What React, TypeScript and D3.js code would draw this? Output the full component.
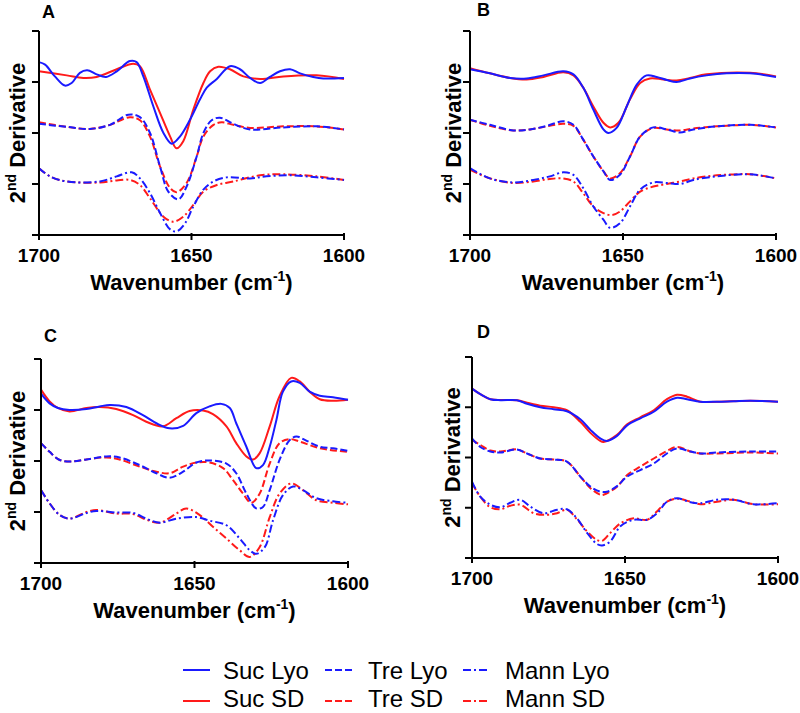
import React from "react";
import * as d3 from "d3";

type Pt = [number, number];

// ---------- Data (wavenumber cm^-1, 2nd derivative arbitrary units; y ticks 0..4) ----------
const WAVENUMBER_TICKS = [1700, 1650, 1600];
const Y_TICKS = [0, 1, 2, 3, 4];
const PANEL_LABELS = ["A", "B", "C", "D"];
const SERIES_NAMES = ["Suc Lyo", "Suc SD", "Tre Lyo", "Tre SD", "Mann Lyo", "Mann SD"];

// Panel A
const sucLyoA: Pt[] = [[1700, 3.39], [1698.0, 3.34], [1694.8, 3.11], [1691.5, 2.93], [1689.3, 2.98], [1686.6, 3.18], [1684.2, 3.23], [1681.1, 3.15], [1678.0, 3.10], [1674.5, 3.21], [1670.2, 3.41], [1668.0, 3.39], [1665.8, 3.11], [1662.5, 2.52], [1659.2, 2.00], [1656.5, 1.79], [1653.8, 1.93], [1650.5, 2.26], [1647.2, 2.66], [1645.0, 2.89], [1641.7, 3.06], [1637.4, 3.31], [1634.1, 3.25], [1630.8, 3.08], [1627.5, 2.98], [1624.3, 3.10], [1621.0, 3.21], [1617.7, 3.25], [1614.4, 3.17], [1610.1, 3.10], [1606.8, 3.07], [1600, 3.08]];
const sucSdA: Pt[] = [[1700, 3.21], [1690.9, 3.13], [1685.5, 3.08], [1681.1, 3.10], [1674.5, 3.25], [1669.1, 3.36], [1666.9, 3.31], [1663.6, 2.85], [1660.3, 2.39], [1657.0, 1.93], [1654.9, 1.70], [1652.7, 1.84], [1649.4, 2.46], [1646.1, 2.98], [1643.9, 3.21], [1641.2, 3.30], [1637.4, 3.25], [1633.0, 3.11], [1627.5, 3.06], [1619.9, 3.11], [1609.0, 3.13], [1600, 3.06]];
const treLyoA: Pt[] = [[1700, 2.18], [1690.9, 2.12], [1683.3, 2.08], [1676.7, 2.16], [1670.7, 2.36], [1666.9, 2.31], [1663.6, 2.00], [1660.3, 1.34], [1657.6, 0.85], [1654.3, 0.70], [1651.6, 0.95], [1648.3, 1.54], [1646.1, 2.00], [1643.4, 2.25], [1640.7, 2.30], [1636.3, 2.18], [1630.8, 2.07], [1619.9, 2.11], [1609.0, 2.13], [1600, 2.07]];
const treSdA: Pt[] = [[1700, 2.21], [1690.9, 2.12], [1683.3, 2.08], [1676.7, 2.16], [1670.2, 2.31], [1666.9, 2.25], [1663.6, 1.93], [1660.3, 1.34], [1657.0, 0.92], [1654.9, 0.84], [1651.6, 1.02], [1648.3, 1.54], [1646.1, 1.93], [1642.8, 2.16], [1640.1, 2.21], [1636.3, 2.16], [1630.8, 2.10], [1619.9, 2.13], [1609.0, 2.13], [1600, 2.07]];
const mannLyoA: Pt[] = [[1700, 1.31], [1696.4, 1.15], [1690.9, 1.05], [1680.0, 1.05], [1674.5, 1.15], [1669.6, 1.23], [1666.9, 1.11], [1663.6, 0.82], [1660.3, 0.43], [1657.0, 0.11], [1654.9, 0.07], [1652.1, 0.23], [1649.4, 0.56], [1646.1, 0.89], [1642.8, 1.05], [1638.5, 1.13], [1630.8, 1.11], [1625.4, 1.15], [1617.7, 1.17], [1609.0, 1.13], [1600, 1.08]];
const mannSdA: Pt[] = [[1700, 1.31], [1696.4, 1.15], [1690.9, 1.05], [1680.0, 1.03], [1674.5, 1.07], [1670.2, 1.08], [1666.9, 0.98], [1663.6, 0.72], [1659.2, 0.36], [1656.0, 0.26], [1652.7, 0.36], [1649.4, 0.59], [1646.1, 0.85], [1641.7, 0.98], [1636.3, 1.05], [1627.5, 1.17], [1619.9, 1.19], [1609.0, 1.15], [1600, 1.08]];

// Panel B
const sucLyoB: Pt[] = [[1700, 3.25], [1693.5, 3.17], [1686.9, 3.08], [1681.5, 3.07], [1676.0, 3.13], [1669.5, 3.21], [1666.2, 3.15], [1663.0, 2.89], [1659.7, 2.46], [1656.4, 2.07], [1654.8, 2.00], [1652.1, 2.10], [1648.8, 2.52], [1645.5, 2.95], [1642.3, 3.13], [1639.0, 3.10], [1635.7, 3.04], [1632.5, 3.00], [1628.1, 3.07], [1622.7, 3.13], [1616.1, 3.17], [1608.5, 3.17], [1600, 3.10]];
const sucSdB: Pt[] = [[1700, 3.27], [1693.5, 3.17], [1686.9, 3.08], [1681.5, 3.05], [1676.0, 3.10], [1669.5, 3.19], [1666.2, 3.13], [1663.0, 2.89], [1659.7, 2.52], [1656.4, 2.20], [1654.2, 2.11], [1651.5, 2.20], [1647.7, 2.66], [1644.4, 2.98], [1641.2, 3.07], [1636.8, 3.05], [1632.5, 3.03], [1628.1, 3.08], [1622.7, 3.15], [1608.5, 3.18], [1600, 3.11]];
const treLyoB: Pt[] = [[1700, 2.26], [1693.5, 2.16], [1685.8, 2.05], [1680.4, 2.07], [1674.9, 2.14], [1669.5, 2.23], [1666.2, 2.16], [1663.0, 1.87], [1659.7, 1.54], [1656.4, 1.25], [1654.2, 1.08], [1651.0, 1.18], [1647.7, 1.54], [1644.4, 1.93], [1640.1, 2.11], [1635.7, 2.07], [1631.4, 2.01], [1627.0, 2.07], [1619.4, 2.13], [1608.5, 2.16], [1600, 2.11]];
const treSdB: Pt[] = [[1700, 2.26], [1693.5, 2.14], [1685.8, 2.05], [1680.4, 2.07], [1674.9, 2.13], [1669.5, 2.18], [1666.2, 2.14], [1663.0, 1.87], [1659.7, 1.54], [1656.4, 1.25], [1654.2, 1.11], [1651.0, 1.21], [1647.7, 1.54], [1644.4, 1.93], [1640.1, 2.10], [1635.7, 2.07], [1631.4, 2.05], [1627.0, 2.09], [1619.4, 2.13], [1608.5, 2.16], [1600, 2.11]];
const mannLyoB: Pt[] = [[1700, 1.31], [1693.5, 1.11], [1685.8, 1.03], [1679.3, 1.08], [1673.9, 1.15], [1669.5, 1.23], [1666.2, 1.18], [1663.0, 0.92], [1659.7, 0.56], [1656.4, 0.30], [1654.2, 0.14], [1651.0, 0.23], [1647.7, 0.56], [1644.4, 0.89], [1640.1, 1.03], [1635.7, 1.02], [1631.4, 1.00], [1627.0, 1.08], [1619.4, 1.15], [1608.5, 1.19], [1600, 1.11]];
const mannSdB: Pt[] = [[1700, 1.28], [1693.5, 1.11], [1685.8, 1.02], [1679.3, 1.05], [1673.9, 1.10], [1669.5, 1.11], [1666.2, 1.05], [1663.0, 0.82], [1659.7, 0.56], [1656.4, 0.43], [1653.7, 0.39], [1651.0, 0.46], [1647.7, 0.66], [1644.4, 0.85], [1640.1, 0.95], [1635.7, 1.00], [1631.4, 1.05], [1627.0, 1.11], [1619.4, 1.17], [1608.5, 1.19], [1600, 1.11]];

// Panel C
const sucLyoC: Pt[] = [[1700, 3.32], [1697.2, 3.13], [1694.5, 3.04], [1690.7, 3.00], [1685.2, 3.02], [1680.9, 3.07], [1677.6, 3.10], [1672.2, 3.06], [1666.8, 2.90], [1662.4, 2.74], [1658.1, 2.64], [1653.7, 2.69], [1649.4, 2.94], [1645.1, 3.07], [1641.3, 3.12], [1638.5, 3.04], [1636.4, 2.74], [1633.1, 2.28], [1629.9, 1.86], [1627.7, 1.92], [1625.5, 2.28], [1623.3, 2.81], [1621.2, 3.36], [1618.5, 3.56], [1615.7, 3.53], [1612.5, 3.36], [1609.2, 3.28], [1604.9, 3.25], [1600, 3.20]];
const sucSdC: Pt[] = [[1700, 3.40], [1697.2, 3.17], [1694.5, 3.04], [1690.7, 2.97], [1685.2, 3.04], [1680.9, 3.06], [1675.5, 3.02], [1670.0, 2.90], [1665.7, 2.77], [1660.3, 2.68], [1655.9, 2.84], [1651.6, 2.98], [1647.2, 2.99], [1644.0, 2.92], [1639.6, 2.68], [1636.4, 2.35], [1633.1, 2.09], [1630.9, 2.03], [1628.8, 2.15], [1625.5, 2.68], [1622.3, 3.27], [1618.5, 3.63], [1615.7, 3.56], [1612.5, 3.36], [1609.2, 3.21], [1604.9, 3.18], [1600, 3.20]];
const treLyoC: Pt[] = [[1700, 2.35], [1697.2, 2.18], [1693.9, 2.02], [1690.1, 1.99], [1685.2, 2.03], [1678.7, 2.09], [1674.4, 2.07], [1667.9, 1.92], [1662.4, 1.76], [1658.1, 1.67], [1653.7, 1.79], [1649.4, 1.97], [1645.1, 2.01], [1639.6, 1.95], [1636.4, 1.76], [1633.1, 1.36], [1629.9, 1.07], [1627.7, 1.10], [1625.5, 1.43], [1622.3, 2.02], [1619.0, 2.41], [1616.8, 2.48], [1613.6, 2.40], [1609.2, 2.28], [1604.9, 2.25], [1600, 2.20]];
const treSdC: Pt[] = [[1700, 2.35], [1697.2, 2.18], [1693.9, 2.02], [1690.1, 1.99], [1685.2, 2.03], [1678.7, 2.07], [1674.4, 2.03], [1667.9, 1.89], [1662.4, 1.79], [1658.1, 1.76], [1653.7, 1.89], [1649.4, 1.97], [1645.1, 1.97], [1640.7, 1.86], [1637.5, 1.63], [1634.2, 1.36], [1631.5, 1.18], [1628.8, 1.36], [1625.5, 1.95], [1622.3, 2.35], [1619.0, 2.43], [1615.7, 2.38], [1609.2, 2.25], [1600, 2.18]];
const mannLyoC: Pt[] = [[1700, 1.43], [1697.2, 1.17], [1693.9, 0.94], [1690.7, 0.87], [1685.2, 0.98], [1682.0, 1.02], [1675.5, 0.99], [1670.0, 0.98], [1665.7, 0.87], [1661.3, 0.79], [1655.9, 0.87], [1649.4, 0.90], [1645.1, 0.83], [1639.6, 0.74], [1635.3, 0.48], [1632.0, 0.25], [1629.9, 0.18], [1627.1, 0.31], [1624.4, 0.84], [1621.2, 1.33], [1617.9, 1.50], [1614.7, 1.43], [1610.3, 1.27], [1604.9, 1.21], [1600, 1.18]];
const mannSdC: Pt[] = [[1700, 1.43], [1697.2, 1.17], [1693.9, 0.94], [1690.7, 0.87], [1685.2, 1.00], [1682.0, 1.04], [1675.5, 0.97], [1670.0, 0.96], [1665.7, 0.85], [1661.3, 0.79], [1655.9, 0.97], [1652.7, 1.07], [1648.3, 0.94], [1644.0, 0.71], [1639.6, 0.48], [1635.3, 0.25], [1632.0, 0.12], [1628.8, 0.31], [1625.5, 0.90], [1622.3, 1.36], [1618.5, 1.56], [1614.7, 1.43], [1610.3, 1.23], [1604.9, 1.18], [1600, 1.15]];

// Panel D
const sucLyoD: Pt[] = [[1700, 3.37], [1697.3, 3.26], [1694.0, 3.16], [1690.7, 3.14], [1685.3, 3.14], [1682.0, 3.07], [1677.7, 3.00], [1673.3, 2.96], [1669.0, 2.92], [1664.6, 2.76], [1661.3, 2.55], [1658.1, 2.38], [1655.9, 2.33], [1652.6, 2.43], [1649.3, 2.64], [1645.0, 2.78], [1640.6, 2.91], [1636.3, 3.11], [1633.0, 3.19], [1629.7, 3.16], [1625.4, 3.11], [1619.9, 3.11], [1614.5, 3.12], [1609.0, 3.13], [1600, 3.11]];
const sucSdD: Pt[] = [[1700, 3.37], [1697.3, 3.26], [1694.0, 3.16], [1685.3, 3.14], [1682.0, 3.09], [1677.7, 3.03], [1673.3, 3.00], [1669.0, 2.94], [1664.6, 2.71], [1661.3, 2.49], [1658.1, 2.33], [1657.0, 2.31], [1652.6, 2.45], [1649.3, 2.66], [1645.0, 2.80], [1640.6, 2.94], [1636.3, 3.16], [1633.0, 3.25], [1629.7, 3.21], [1625.4, 3.11], [1619.9, 3.11], [1609.0, 3.13], [1600, 3.11]];
const treLyoD: Pt[] = [[1700, 2.38], [1697.3, 2.21], [1694.0, 2.12], [1690.7, 2.10], [1685.3, 2.16], [1682.0, 2.08], [1677.7, 1.98], [1673.3, 1.96], [1669.0, 1.92], [1664.6, 1.62], [1661.3, 1.42], [1658.1, 1.32], [1655.9, 1.32], [1652.6, 1.43], [1649.3, 1.62], [1645.0, 1.75], [1640.6, 1.88], [1636.3, 2.08], [1633.0, 2.18], [1628.6, 2.12], [1625.4, 2.08], [1619.9, 2.10], [1609.0, 2.12], [1600, 2.12]];
const treSdD: Pt[] = [[1700, 2.35], [1697.3, 2.25], [1694.0, 2.14], [1690.7, 2.12], [1685.3, 2.16], [1682.0, 2.08], [1677.7, 1.98], [1673.3, 1.96], [1669.0, 1.92], [1664.6, 1.62], [1661.3, 1.39], [1658.1, 1.26], [1657.0, 1.26], [1652.6, 1.42], [1649.3, 1.65], [1645.0, 1.82], [1640.6, 1.98], [1636.3, 2.13], [1633.0, 2.21], [1628.6, 2.12], [1625.4, 2.08], [1619.9, 2.08], [1609.0, 2.10], [1600, 2.08]];
const mannLyoD: Pt[] = [[1700, 1.52], [1697.3, 1.22], [1694.0, 1.06], [1690.7, 1.01], [1687.5, 1.10], [1684.2, 1.16], [1680.9, 1.02], [1676.6, 0.89], [1672.2, 0.96], [1669.0, 0.97], [1665.7, 0.79], [1662.4, 0.50], [1659.2, 0.28], [1657.5, 0.25], [1654.8, 0.33], [1651.5, 0.63], [1647.2, 0.76], [1642.8, 0.76], [1639.5, 0.89], [1636.3, 1.12], [1633.0, 1.19], [1628.6, 1.11], [1625.4, 1.09], [1619.9, 1.16], [1614.5, 1.16], [1608.0, 1.07], [1600, 1.09]];
const mannSdD: Pt[] = [[1700, 1.49], [1697.3, 1.22], [1694.0, 1.01], [1690.7, 0.97], [1687.5, 1.04], [1684.2, 1.06], [1679.8, 0.89], [1675.5, 0.86], [1672.2, 0.89], [1669.0, 0.96], [1665.7, 0.77], [1662.4, 0.53], [1659.2, 0.36], [1657.5, 0.34], [1654.8, 0.50], [1651.5, 0.69], [1647.2, 0.79], [1642.8, 0.76], [1639.5, 0.93], [1636.3, 1.12], [1633.0, 1.18], [1628.6, 1.12], [1625.4, 1.07], [1619.9, 1.12], [1614.5, 1.16], [1608.0, 1.07], [1600, 1.07]];

// ---------- Styling & layout ----------
const BLUE = "#1a1aff";
const RED = "#ff1a1a";
const STYLE: Record<string, { color: string; dash?: string }> = {
  "Suc Lyo": { color: BLUE },
  "Suc SD": { color: RED },
  "Tre Lyo": { color: BLUE, dash: "7,3" },
  "Tre SD": { color: RED, dash: "7,3" },
  "Mann Lyo": { color: BLUE, dash: "8,3,2,3" },
  "Mann SD": { color: RED, dash: "8,3,2,3" },
};

const PANEL_DATA: Pt[][][] = [
  [sucLyoA, sucSdA, treLyoA, treSdA, mannLyoA, mannSdA],
  [sucLyoB, sucSdB, treLyoB, treSdB, mannLyoB, mannSdB],
  [sucLyoC, sucSdC, treLyoC, treSdC, mannLyoC, mannSdC],
  [sucLyoD, sucSdD, treLyoD, treSdD, mannLyoD, mannSdD],
];

const LAYOUT = [
  { x0: 39, x1: 344, yTop: 31, yBot: 235, titleX: 25, labelX: 42, labelY: 18 },
  { x0: 470, x1: 776, yTop: 31, yBot: 235, titleX: 461, labelX: 477, labelY: 16 },
  { x0: 41, x1: 348, yTop: 359, yBot: 563, titleX: 25, labelX: 44, labelY: 342 },
  { x0: 472, x1: 778, yTop: 357, yBot: 558, titleX: 460, labelX: 477, labelY: 338 },
];

const FONT = "'Liberation Sans', Arial, Helvetica, sans-serif";

function Panel({ idx }: { idx: number }) {
  const L = LAYOUT[idx];
  const x = d3.scaleLinear().domain([1700, 1600]).range([L.x0, L.x1]);
  const y = d3.scaleLinear().domain([0, 4]).range([L.yBot, L.yTop]);
  const line = d3
    .line<Pt>()
    .x((d) => x(d[0]))
    .y((d) => y(d[1]))
    .curve(d3.curveCatmullRom.alpha(0.5));
  const series = PANEL_DATA[idx];
  const order = [1, 0, 3, 2, 5, 4];
  const midY = (L.yTop + L.yBot) / 2;
  return (
    <g>
      {order.map((i) => {
        const st = STYLE[SERIES_NAMES[i]];
        return (
          <path
            key={i}
            d={line(series[i]) || ""}
            fill="none"
            stroke={st.color}
            strokeWidth={2}
            strokeDasharray={st.dash}
          />
        );
      })}
      {/* y axis */}
      <line x1={L.x0} x2={L.x0} y1={y(4)} y2={y(0)} stroke="#000" strokeWidth={2} />
      {Y_TICKS.map((t) => (
        <line key={t} x1={L.x0 - 7} x2={L.x0} y1={y(t)} y2={y(t)} stroke="#000" strokeWidth={2} />
      ))}
      {/* x axis */}
      <line x1={x(1700)} x2={x(1600)} y1={L.yBot} y2={L.yBot} stroke="#000" strokeWidth={2} />
      {WAVENUMBER_TICKS.map((t) => (
        <g key={t}>
          <line x1={x(t)} x2={x(t)} y1={L.yBot - 2} y2={L.yBot + 5} stroke="#000" strokeWidth={2} />
          <text
            x={x(t)}
            y={L.yBot + 27}
            textAnchor="middle"
            fontFamily={FONT}
            fontWeight="bold"
            fontSize={19}
          >
            {t}
          </text>
        </g>
      ))}
      <text
        x={(L.x0 + L.x1) / 2}
        y={L.yBot + 55}
        textAnchor="middle"
        fontFamily={FONT}
        fontWeight="bold"
        fontSize={22}
      >
        Wavenumber (cm
        <tspan fontSize={14} dy={-9}>-1</tspan>
        <tspan dy={9}>)</tspan>
      </text>
      <text
        transform={`translate(${L.titleX},${midY}) rotate(-90)`}
        textAnchor="middle"
        fontFamily={FONT}
        fontWeight="bold"
        fontSize={22}
      >
        2<tspan fontSize={14} dy={-9}>nd</tspan>
        <tspan dy={9}> Derivative</tspan>
      </text>
      <text x={L.labelX} y={L.labelY} fontFamily={FONT} fontWeight="bold" fontSize={18}>
        {PANEL_LABELS[idx]}
      </text>
    </g>
  );
}

const LEGEND_COLS = [
  { lx0: 183, lx1: 210, tx: 223 },
  { lx0: 325, lx1: 352, tx: 368 },
  { lx0: 463, lx1: 490, tx: 505 },
];
const LEGEND_ROWS = [
  { ly: 670, ty: 679 },
  { ly: 701, ty: 707 },
];

function Legend() {
  return (
    <g>
      {SERIES_NAMES.map((name, i) => {
        const col = LEGEND_COLS[Math.floor(i / 2)];
        const row = LEGEND_ROWS[i % 2];
        const st = STYLE[name];
        return (
          <g key={name}>
            <line
              x1={col.lx0}
              x2={col.lx1}
              y1={row.ly}
              y2={row.ly}
              stroke={st.color}
              strokeWidth={2}
              strokeDasharray={st.dash}
            />
            <text x={col.tx} y={row.ty} fontFamily={FONT} fontSize={24}>
              {name}
            </text>
          </g>
        );
      })}
    </g>
  );
}

export default function App() {
  return (
    <svg
      width={800}
      height={713}
      style={{ position: "absolute", left: 0, top: 0, background: "#fff" }}
    >
      <rect width={800} height={713} fill="#fff" />
      {[0, 1, 2, 3].map((i) => (
        <Panel key={i} idx={i} />
      ))}
      <Legend />
    </svg>
  );
}
